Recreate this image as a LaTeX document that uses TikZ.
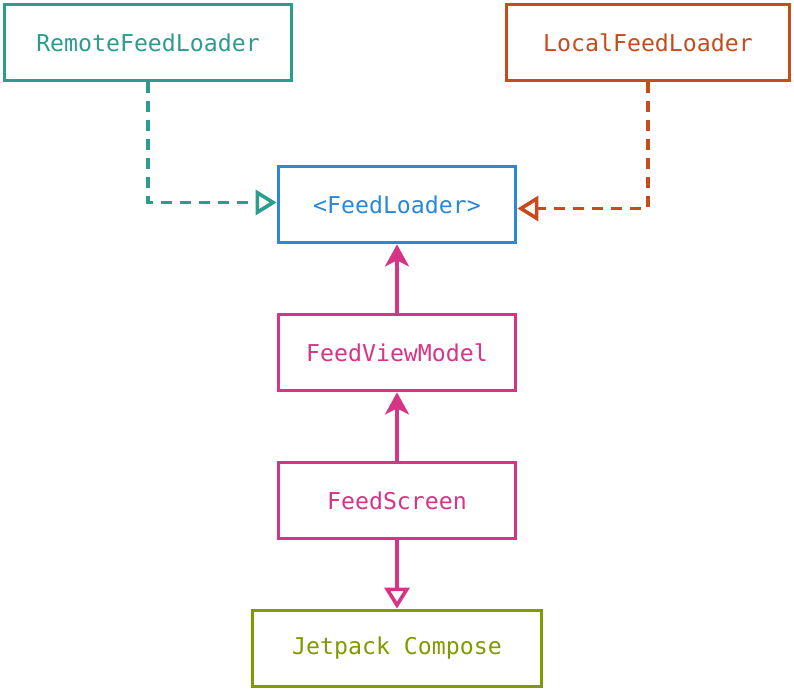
\documentclass[tikz,border=0pt]{standalone}
\usepackage{fontspec}
\setmonofont{DejaVu Sans Mono}
\usepackage{tikz}
\usetikzlibrary{positioning,arrows.meta}
\definecolor{remote}{RGB}{42,157,143}
\definecolor{proto}{RGB}{43,136,216}
\definecolor{local}{RGB}{201,75,27}
\definecolor{ui}{RGB}{214,52,132}
\definecolor{compose}{RGB}{128,154,0}
\begin{document}
\begin{tikzpicture}[x=0.5pt,y=-0.5pt,font=\ttfamily\fontsize{11.6}{14}\selectfont]
\tikzstyle{box}=[draw,line width=1.9pt,minimum height=38pt,inner sep=0pt]
\tikzstyle{dep}=[line width=1.8pt,dash pattern=on 5.5pt off 4pt,-{Triangle[open,length=10.5pt,width=12.5pt]}]
\tikzstyle{use}=[line width=1.8pt,-{Stealth[length=11pt,width=12pt,inset=3pt]}]
\useasboundingbox (0,0) rectangle (794,690);
\node[box,remote,text=remote,minimum width=143.5pt] (rfl) at (148,42.5) {RemoteFeedLoader};
\node[box,local,text=local,minimum width=141.5pt] (lfl) at (648,42.5) {LocalFeedLoader};
\node[box,proto,text=proto,minimum width=118.5pt] (fl) at (397,204.5) {<FeedLoader>};
\node[box,ui,text=ui,minimum width=118.5pt] (fvm) at (397,352.5) {FeedViewModel};
\node[box,ui,text=ui,minimum width=118.5pt] (fs) at (397,500.5) {FeedScreen};
\node[box,compose,text=compose,minimum width=144.5pt] (jc) at (397,648.5) {Jetpack Compose};
% dependencies
\draw[dep,remote] (rfl.south) |- ([yshift=1pt]fl.west);
\draw[dep,local] (lfl.south) |- ([yshift=-2pt]fl.east);
\draw[use,ui] (fvm) -- (fl);
\draw[use,ui] (fs) -- (fvm);
\draw[dep,ui,solid] (fs) -- (jc);
\end{tikzpicture}
\end{document}
